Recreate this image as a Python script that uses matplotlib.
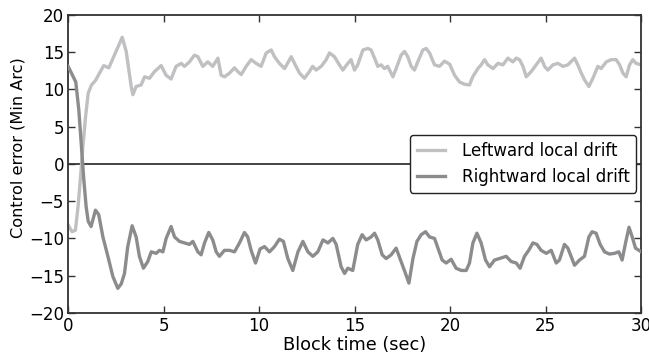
import numpy as np
import matplotlib
matplotlib.use("Agg")
import matplotlib.pyplot as plt

# values
left_t = [0.0, 0.2, 0.38, 0.52, 0.65, 0.77, 0.91, 1.05, 1.22, 1.43, 1.69, 1.86, 2.13, 2.3, 2.56, 2.83,
          3.04, 3.3, 3.39, 3.56, 3.82, 4.0, 4.26, 4.52, 4.87, 5.13, 5.39, 5.65, 5.92, 6.09, 6.35, 6.61,
          6.79, 7.05, 7.31, 7.57, 7.84, 8.01, 8.19, 8.45, 8.71, 8.88, 9.06, 9.32, 9.58, 9.84, 10.1, 10.37,
          10.63, 10.8, 11.06, 11.33, 11.68, 11.85, 12.11, 12.37, 12.63, 12.8, 12.98, 13.25, 13.51, 13.68,
          13.94, 14.2, 14.38, 14.64, 14.81, 14.99, 15.16, 15.43, 15.69, 15.86, 16.04, 16.21, 16.39, 16.56,
          16.73, 17.0, 17.17, 17.43, 17.61, 17.78, 17.96, 18.13, 18.3, 18.57, 18.74, 18.92, 19.18, 19.44,
          19.7, 19.97, 20.23, 20.49, 20.75, 21.01, 21.18, 21.45, 21.62, 21.8, 21.97, 22.24, 22.5, 22.76,
          23.02, 23.28, 23.46, 23.63, 23.81, 23.98, 24.24, 24.5, 24.76, 24.94, 25.11, 25.38, 25.64, 25.9,
          26.16, 26.51, 26.68, 26.86, 27.03, 27.26, 27.47, 27.73, 27.9, 28.17, 28.43, 28.69, 28.87, 29.04,
          29.21, 29.39, 29.56, 29.73, 30.0]
left_v = [-8.2, -9.1, -8.9, -5.7, -1.7, 2.3, 6.3, 9.5, 10.6, 11.2, 12.4, 13.2, 12.9, 13.9, 15.4, 17.0,
          15.1, 10.4, 9.3, 10.4, 10.6, 11.7, 11.5, 12.4, 13.2, 11.9, 11.4, 13.1, 13.5, 13.1, 13.7, 14.6,
          14.4, 13.1, 13.7, 13.1, 14.2, 11.9, 11.7, 12.2, 12.9, 12.4, 12.0, 13.1, 14.0, 13.5, 13.1, 14.9,
          15.3, 14.4, 13.5, 12.8, 14.4, 13.5, 12.2, 11.5, 12.4, 13.1, 12.6, 13.1, 14.0, 14.9,
          14.4, 13.3, 12.6, 13.5, 14.0, 12.6, 13.3, 15.3, 15.5, 15.3, 14.2, 13.1, 13.3, 12.8,
          13.1, 11.7, 12.8, 14.6, 15.1, 14.4, 13.1, 12.6, 13.7, 15.3, 15.5, 14.9, 13.3, 13.1,
          13.8, 13.4, 11.9, 11.0, 10.7, 10.6, 11.7, 12.8, 13.3, 14.0, 13.3, 12.8, 13.5, 13.3,
          14.2, 13.7, 14.2, 14.0, 13.1, 11.7, 12.4, 13.3, 14.2, 13.1, 12.6, 13.3, 13.5, 13.1,
          13.3, 14.2, 13.3, 12.2, 11.3, 10.4, 11.5, 13.1, 12.8, 13.7, 14.0, 14.0, 13.3, 12.2,
          11.7, 13.3, 14.0, 13.5, 13.3]

right_t = [0.0, 0.3, 0.4, 0.56, 0.7, 0.82, 0.94, 1.05, 1.2, 1.43, 1.6, 1.82, 2.08, 2.34, 2.6, 2.78,
           2.95, 3.12, 3.35, 3.56, 3.73, 3.94, 4.17, 4.35, 4.61, 4.78, 4.96, 5.13, 5.39, 5.57, 5.83, 6.09,
           6.35, 6.53, 6.79, 6.96, 7.14, 7.36, 7.57, 7.75, 7.92, 8.18, 8.45, 8.71, 8.97, 9.23, 9.4, 9.58,
           9.81, 10.05, 10.28, 10.54, 10.8, 11.06, 11.27, 11.5, 11.76, 12.03, 12.29, 12.55, 12.81, 13.07,
           13.34, 13.6, 13.86, 14.03, 14.29, 14.47, 14.64, 14.9, 15.16, 15.39, 15.6, 15.86, 16.04, 16.21,
           16.44, 16.65, 16.91, 17.17, 17.43, 17.66, 17.84, 18.05, 18.26, 18.48, 18.71, 18.92, 19.18, 19.36,
           19.58, 19.79, 20.05, 20.31, 20.58, 20.84, 21.01, 21.19, 21.4, 21.62, 21.85, 22.06, 22.32, 22.58,
           22.93, 23.19, 23.46, 23.66, 23.89, 24.11, 24.33, 24.54, 24.76, 25.03, 25.29, 25.55, 25.72, 25.98,
           26.16, 26.33, 26.51, 26.77, 27.03, 27.26, 27.43, 27.64, 27.85, 28.08, 28.34, 28.6, 28.83, 29.0,
           29.18, 29.36, 29.53, 29.7, 30.0]
right_v = [13.1, 11.5, 11.0, 7.2, 2.3, -2.1, -5.7, -7.7, -8.4, -6.2, -6.8, -9.8, -12.4, -15.1, -16.7, -16.1,
           -14.7, -11.1, -8.3, -9.8, -12.4, -14.0, -13.1, -11.8, -12.0, -11.6, -11.8, -10.0, -8.4, -9.8, -10.4, -10.6,
           -10.8, -10.4, -11.8, -12.2, -10.6, -9.2, -10.2, -11.8, -12.4, -11.6, -11.6, -11.8, -10.6, -9.2, -9.8, -11.6,
           -13.3, -11.4, -11.1, -11.8, -11.1, -10.1, -10.4, -12.7, -14.3, -11.8, -10.4, -11.8, -12.4, -11.8,
           -10.2, -10.6, -10.0, -10.8, -13.8, -14.7, -14.0, -14.3, -10.8, -9.5, -10.2, -9.8, -9.3, -10.2,
           -12.2, -12.7, -12.2, -11.3, -13.1, -14.7, -16.0, -12.7, -10.4, -9.5, -9.1, -9.8, -10.0, -11.3,
           -12.9, -13.3, -12.8, -14.0, -14.3, -14.3, -13.3, -10.6, -9.3, -10.6, -12.9, -13.8, -12.9, -12.7,
           -12.4, -13.1, -13.3, -14.0, -12.4, -11.6, -10.6, -10.8, -11.6, -12.0, -11.6, -13.3, -12.9, -10.8,
           -11.3, -12.4, -13.6, -12.9, -12.4, -9.8, -9.1, -9.3, -10.8, -11.8, -12.1, -12.0, -11.8, -12.9,
           -10.6, -8.5, -9.8, -11.3, -11.8]

labels = ["Leftward local drift", "Rightward local drift"]
colors = ["#c0c0c3", "#8c8c8e"]

fig = plt.figure(figsize=(6.49, 3.56), dpi=100)
ax = fig.add_axes([0.105, 0.121, 0.883, 0.837])

ax.axhline(0, color="#222222", lw=1.2, zorder=1)
ax.plot(left_t, left_v, color=colors[0], lw=2.4, label=labels[0], zorder=2)
ax.plot(right_t, right_v, color=colors[1], lw=2.4, label=labels[1], zorder=3)

ax.set_xlim(0, 30)
ax.set_ylim(-20, 20)
ax.set_xticks(np.arange(0, 31, 5))
ax.set_yticks(np.arange(-20, 21, 5))
ax.tick_params(direction="in", top=True, right=True, length=5, width=1,
               color="#333333", labelsize=12, pad=3)
for s in ax.spines.values():
    s.set_color("#333333")
    s.set_linewidth(1.3)

ax.set_xlabel("Block time (sec)", fontsize=12.8, labelpad=1)
ax.set_ylabel("Control error (Min Arc)", fontsize=11.6, labelpad=2)
ax.yaxis.set_label_coords(-0.075, 0.555)

leg = ax.legend(loc="center right", fontsize=12, fancybox=True, framealpha=1,
                edgecolor="#222222", borderaxespad=0.3, handlelength=1.7,
                handletextpad=1.0, borderpad=0.4)
leg.get_frame().set_linewidth(1.0)

fig.savefig("out.png", dpi=100)
